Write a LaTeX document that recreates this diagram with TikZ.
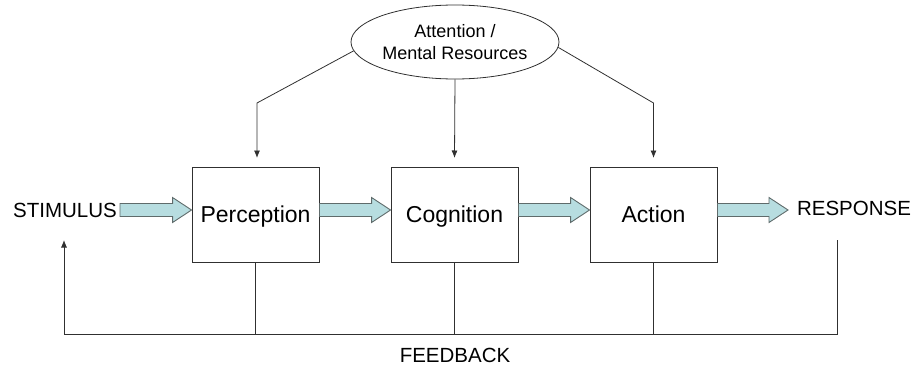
\documentclass[tikz,border=0pt]{standalone}
\usepackage{fontspec}
\setmainfont{Liberation Sans}
\usetikzlibrary{shapes.geometric,arrows.meta,calc}
\definecolor{arrowfill}{HTML}{B7DDE0}
\definecolor{arrowline}{HTML}{5F6B6B}
\definecolor{ln}{HTML}{303030}
\tikzset{
  procbox/.style={draw=ln, line width=0.9pt, minimum width=127pt, minimum height=95pt, inner sep=0pt, text height=20pt, text depth=5pt, font=\fontsize{23}{27}\selectfont},
  lbl/.style={inner sep=0pt, font=\fontsize{20.5}{24}\selectfont},
  barrow/.style={draw=arrowline, fill=arrowfill, line width=0.9pt, line join=miter},
  att/.style={draw=ln, line width=0.8pt, -{Latex[length=7.5pt,width=6pt]}},
  fb/.style={draw=ln, line width=0.8pt}
}
\newcommand\blockarrow[2]{\path[barrow] let \p1=(#1), \p2=(#2) in
  (\x1,\y1+6.5) -- (\x2-19,\y1+6.5) -- (\x2-19,\y1+12.5) -- (\x2,\y1) -- (\x2-19,\y1-12.5) -- (\x2-19,\y1-6.5) -- (\x1,\y1-6.5) -- cycle;}
\begin{document}
\begin{tikzpicture}[x=1pt,y=-1pt]
\useasboundingbox (0,0) rectangle (916,369);
% nodes
\node[procbox] (perc) at (255.5,214.5) {Perception};
\node[procbox] (cog) at (454.5,214.5) {Cognition};
\node[procbox] (act) at (653.5,214.5) {Action};
\node[draw=ln, line width=0.8pt, ellipse, minimum width=208pt, minimum height=74pt, inner sep=0pt, align=center, font=\fontsize{18}{22}\selectfont] (ell) at (455,42) {Attention /\\Mental Resources};
\node[lbl] (stim) at (65,210) {STIMULUS};
\node[lbl] (resp) at (854,208) {RESPONSE};
\node[lbl] (fbtext) at (455,355) {FEEDBACK};
% coordinates
\coordinate (a0) at (120,210);
\coordinate (a3) at (788,210);
\coordinate (fbl) at (64,334);
\coordinate (fbr) at (837,334);
\coordinate (stiptip) at (64,240);
\coordinate (resptop) at (837,240);
\coordinate (bend) at (0,103);
\coordinate (tipy) at (0,158);
% block arrows
\blockarrow{a0}{perc.west |- a0}
\blockarrow{perc.east |- a0}{cog.west |- a0}
\blockarrow{cog.east |- a0}{act.west |- a0}
\blockarrow{act.east |- a0}{a3}
% attention arrows
\draw[att] (ell.185) -- ([xshift=1.5pt]perc.north |- bend) -- ([xshift=1.5pt]perc.north |- tipy);
\draw[att] (ell.south) -- (cog.north |- tipy);
\draw[att] (ell.-3) -- (act.north |- bend) -- (act.north |- tipy);
% feedback
\draw[fb] (perc.south) -- (perc.south |- fbl);
\draw[fb] (cog.south) -- (cog.south |- fbl);
\draw[fb] (act.south) -- (act.south |- fbl);
\draw[fb, -{Latex[length=7.5pt,width=6pt]}] (resptop) -- (fbr) -- (fbl) -- (stiptip);
\end{tikzpicture}
\end{document}
